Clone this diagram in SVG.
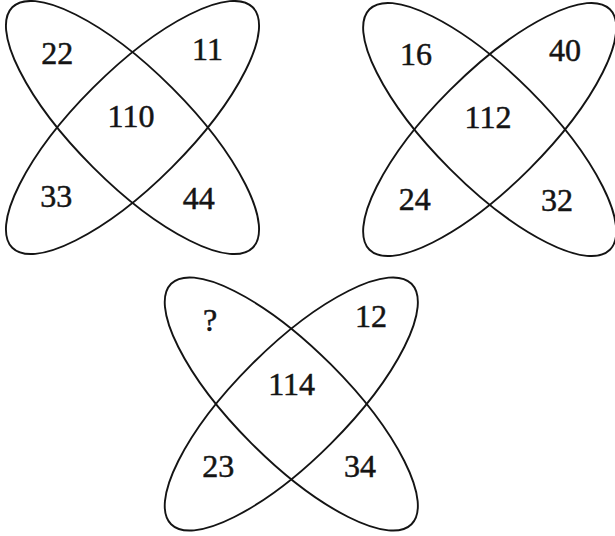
<svg xmlns="http://www.w3.org/2000/svg" width="615" height="536" viewBox="0 0 615 536">
<style>
.e{fill:none;stroke:#141414;stroke-width:1.9}
.t{font-family:"Liberation Serif","Times New Roman",serif;font-size:32px;fill:#141414;stroke:#141414;stroke-width:0.5;text-anchor:middle}
</style>
<defs>
<g id="pair">
<ellipse class="e" cx="0" cy="0" rx="170" ry="56" transform="rotate(45)"/>
<ellipse class="e" cx="0" cy="0" rx="170" ry="56" transform="rotate(-45)"/>
</g>
</defs>
<rect width="615" height="536" fill="#ffffff"/>
<g id="connectors">
<use href="#pair" x="132.5" y="127.5"/>
<use href="#pair" x="489.7" y="129.5"/>
<use href="#pair" x="291.3" y="404"/>
</g>
<g id="fig1">
<text class="t" x="57.2" y="63.5">22</text>
<text class="t" x="207.5" y="59.5">11</text>
<text class="t" x="131" y="126.7">110</text>
<text class="t" x="56.3" y="207.3">33</text>
<text class="t" x="198.8" y="209">44</text>
</g>
<g id="fig2">
<text class="t" x="416" y="64.5">16</text>
<text class="t" x="565" y="60.5">40</text>
<text class="t" x="488" y="128">112</text>
<text class="t" x="414.7" y="209.5">24</text>
<text class="t" x="557" y="211">32</text>
</g>
<g id="fig3">
<text class="t" x="210" y="331">?</text>
<text class="t" x="371" y="326.5">12</text>
<text class="t" x="291.7" y="395">114</text>
<text class="t" x="218.3" y="476.5">23</text>
<text class="t" x="360" y="476.5">34</text>
</g>
</svg>
